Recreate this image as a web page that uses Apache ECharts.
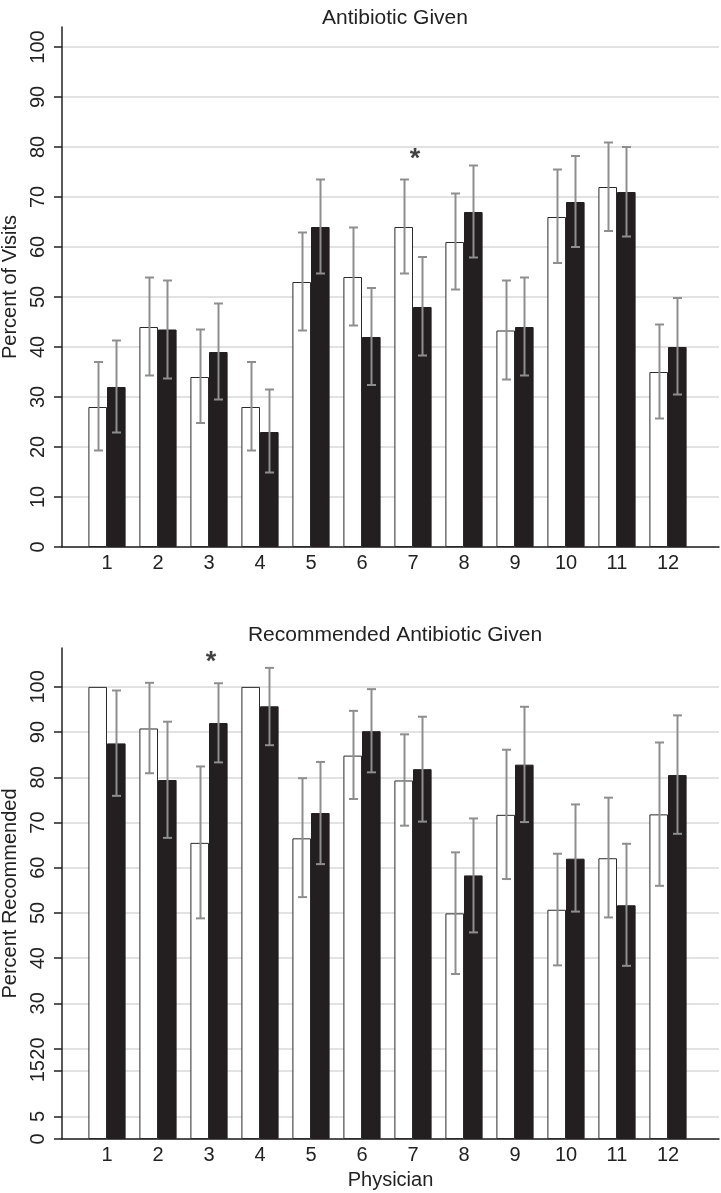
<!DOCTYPE html>
<html><head><meta charset="utf-8">
<script src="https://cdn.jsdelivr.net/npm/echarts@6/dist/echarts.min.js"></script>
<style>html,body{margin:0;padding:0;background:#fff}#c{width:721px;height:1193px}</style>
</head><body><div id="c"></div>
<script>
// ---- data ----
const physicians = [1,2,3,4,5,6,7,8,9,10,11,12];
const topTicks = [0,10,20,30,40,50,60,70,80,90,100];
const bottomTicks = [0,5,15,20,30,40,50,60,70,80,90,100];

// Panel 1: Antibiotic Given (percent of visits)
const givenOpen      = [28, 44, 34, 28, 53, 54, 64, 61, 43.3, 66, 72, 35];
const givenOpenLo    = [19.3, 34.3, 24.8, 19.3, 43.3, 44.3, 54.7, 51.5, 33.5, 56.8, 63.2, 25.7];
const givenOpenHi    = [37, 53.9, 43.5, 37, 62.9, 63.9, 73.5, 70.7, 53.3, 75.5, 80.9, 44.5];
const givenFilled    = [32, 43.5, 39, 23, 64, 42, 48, 67, 44, 69, 71, 40];
const givenFilledLo  = [22.9, 33.7, 29.5, 14.9, 54.7, 32.4, 38.3, 57.9, 34.3, 60, 62.1, 30.5];
const givenFilledHi  = [41.3, 53.3, 48.7, 31.5, 73.5, 51.8, 58, 76.3, 53.9, 78.2, 80, 49.8];
const givenStars     = [[7, 78]];

// Panel 2: Recommended Antibiotic Given (percent recommended)
const recOpen        = [100, 90.8, 65.5, 100, 66.5, 84.8, 79.3, 49.9, 71.7, 50.7, 62.1, 71.8];
const recOpenLo      = [null, 80.9, 48.8, null, 53.5, 75.2, 69.3, 36.5, 57.5, 38.4, 49.0, 56.0];
const recOpenHi      = [null, 100.9, 82.4, null, 79.8, 94.7, 89.5, 63.4, 86.1, 63.1, 75.5, 87.7];
const recFilled      = [87.5, 79.4, 92.0, 95.7, 72.1, 90.2, 81.8, 58.3, 82.8, 62.0, 51.7, 80.5];
const recFilledLo    = [75.9, 66.6, 83.3, 87.1, 60.8, 81.1, 70.2, 45.7, 70.1, 50.3, 38.3, 67.5];
const recFilledHi    = [99.2, 92.3, 100.8, 104.2, 83.4, 99.5, 93.4, 70.9, 95.6, 74.0, 65.3, 93.7];
const recStars       = [[3, 106]];

// ---- chart ----
const FONT = 'Liberation Sans, Arial, Helvetica, sans-serif';
const BAR_W = 18.6;
const ERR_COLOR = '#8e8e8e';

function pairs(vals) { return physicians.map((p, i) => [p, vals[i]]); }
function errData(lo, hi) {
  const out = [];
  physicians.forEach((p, i) => { if (lo[i] != null) out.push([p, lo[i], hi[i]]); });
  return out;
}
function errSeries(idx, lo, hi, offset) {
  return {
    type: 'custom', xAxisIndex: idx, yAxisIndex: idx, z: 10, silent: true,
    data: errData(lo, hi),
    encode: { x: 0, y: [1, 2] },
    renderItem(params, api) {
      const x = api.value(0);
      const a = api.coord([x, api.value(1)]);
      const b = api.coord([x, api.value(2)]);
      const px = Math.round(a[0] + offset) + 0.5;
      const w = 4.5;
      const style = { stroke: ERR_COLOR, lineWidth: 2, fill: null };
      return { type: 'group', children: [
        { type: 'line', shape: { x1: px, y1: a[1], x2: px, y2: b[1] }, style },
        { type: 'line', shape: { x1: px - w, y1: a[1], x2: px + w, y2: a[1] }, style },
        { type: 'line', shape: { x1: px - w, y1: b[1], x2: px + w, y2: b[1] }, style }
      ]};
    }
  };
}
function barPair(idx, open, filled) {
  return [
    { name: 'Open bars', type: 'bar', xAxisIndex: idx, yAxisIndex: idx, data: pairs(open),
      barWidth: BAR_W, barGap: '0%',
      itemStyle: { color: '#ffffff', borderColor: '#2a2a2a', borderWidth: 1 } },
    { name: 'Filled bars', type: 'bar', xAxisIndex: idx, yAxisIndex: idx, data: pairs(filled),
      barWidth: BAR_W, barGap: '0%',
      itemStyle: { color: '#231f20', borderColor: '#231f20', borderWidth: 1 } }
  ];
}
function starSeries(idx, stars) {
  return { type: 'scatter', xAxisIndex: idx, yAxisIndex: idx, data: stars, symbolSize: 1,
    itemStyle: { color: 'rgba(0,0,0,0)' }, silent: true, z: 12,
    label: { show: true, position: 'inside', offset: [2, 3], formatter: '*', fontSize: 27, fontWeight: 'bold',
      color: '#111', fontFamily: FONT } };
}
function xAxis(idx) {
  return { type: 'value', gridIndex: idx, min: 0.1176, max: 13,
    axisLine: { show: true, onZero: false, lineStyle: { color: '#222', width: 1.5 } },
    axisTick: { show: false }, splitLine: { show: false },
    axisLabel: { customValues: physicians, fontSize: 20, color: '#222', fontFamily: FONT, margin: 6 } };
}
function yAxis(idx, ticks, max, name) {
  return { type: 'value', gridIndex: idx, min: 0, max: max,
    name: name, nameLocation: 'middle', nameGap: 30,
    nameTextStyle: { fontSize: 20, color: '#222', fontFamily: FONT },
    axisLine: { show: true, lineStyle: { color: '#222', width: 1.5 } },
    axisTick: { show: true, customValues: ticks, length: 8, lineStyle: { color: '#222', width: 1.5 } },
    axisLabel: { customValues: ticks, rotate: 90, fontSize: 20, color: '#222', fontFamily: FONT, margin: 14 },
    splitLine: { show: true, lineStyle: { color: '#e2e2e2', width: 2 } } };
}

const chart = echarts.init(document.getElementById('c'), null, { renderer: 'canvas' });
chart.setOption({
  animation: false,
  backgroundColor: '#fff',
  title: [
    { text: 'Antibiotic Given', left: 390, top: 3, textAlign: 'center',
      textStyle: { fontSize: 21, fontWeight: 'normal', color: '#222', fontFamily: FONT } },
    { text: 'Recommended Antibiotic Given', left: 390, top: 620, textAlign: 'center',
      textStyle: { fontSize: 21, fontWeight: 'normal', color: '#222', fontFamily: FONT } }
  ],
  grid: [
    { left: 62, right: 2, top: 27, height: 520, containLabel: false, outerBoundsMode: 'none' },
    { left: 62, right: 2, top: 648, height: 491, containLabel: false, outerBoundsMode: 'none' }
  ],
  xAxis: [xAxis(0), Object.assign(xAxis(1), { name: 'Physician', nameLocation: 'middle', nameGap: 31,
    nameTextStyle: { fontSize: 20, color: '#222', fontFamily: FONT } })],
  yAxis: [yAxis(0, topTicks, 104, 'Percent of Visits'), yAxis(1, bottomTicks, 108.6, 'Percent Recommended')],
  series: [
    ...barPair(0, givenOpen, givenFilled),
    errSeries(0, givenOpenLo, givenOpenHi, -BAR_W / 2),
    errSeries(0, givenFilledLo, givenFilledHi, BAR_W / 2),
    starSeries(0, givenStars),
    ...barPair(1, recOpen, recFilled),
    errSeries(1, recOpenLo, recOpenHi, -BAR_W / 2),
    errSeries(1, recFilledLo, recFilledHi, BAR_W / 2),
    starSeries(1, recStars)
  ]
});
</script>
</body></html>
